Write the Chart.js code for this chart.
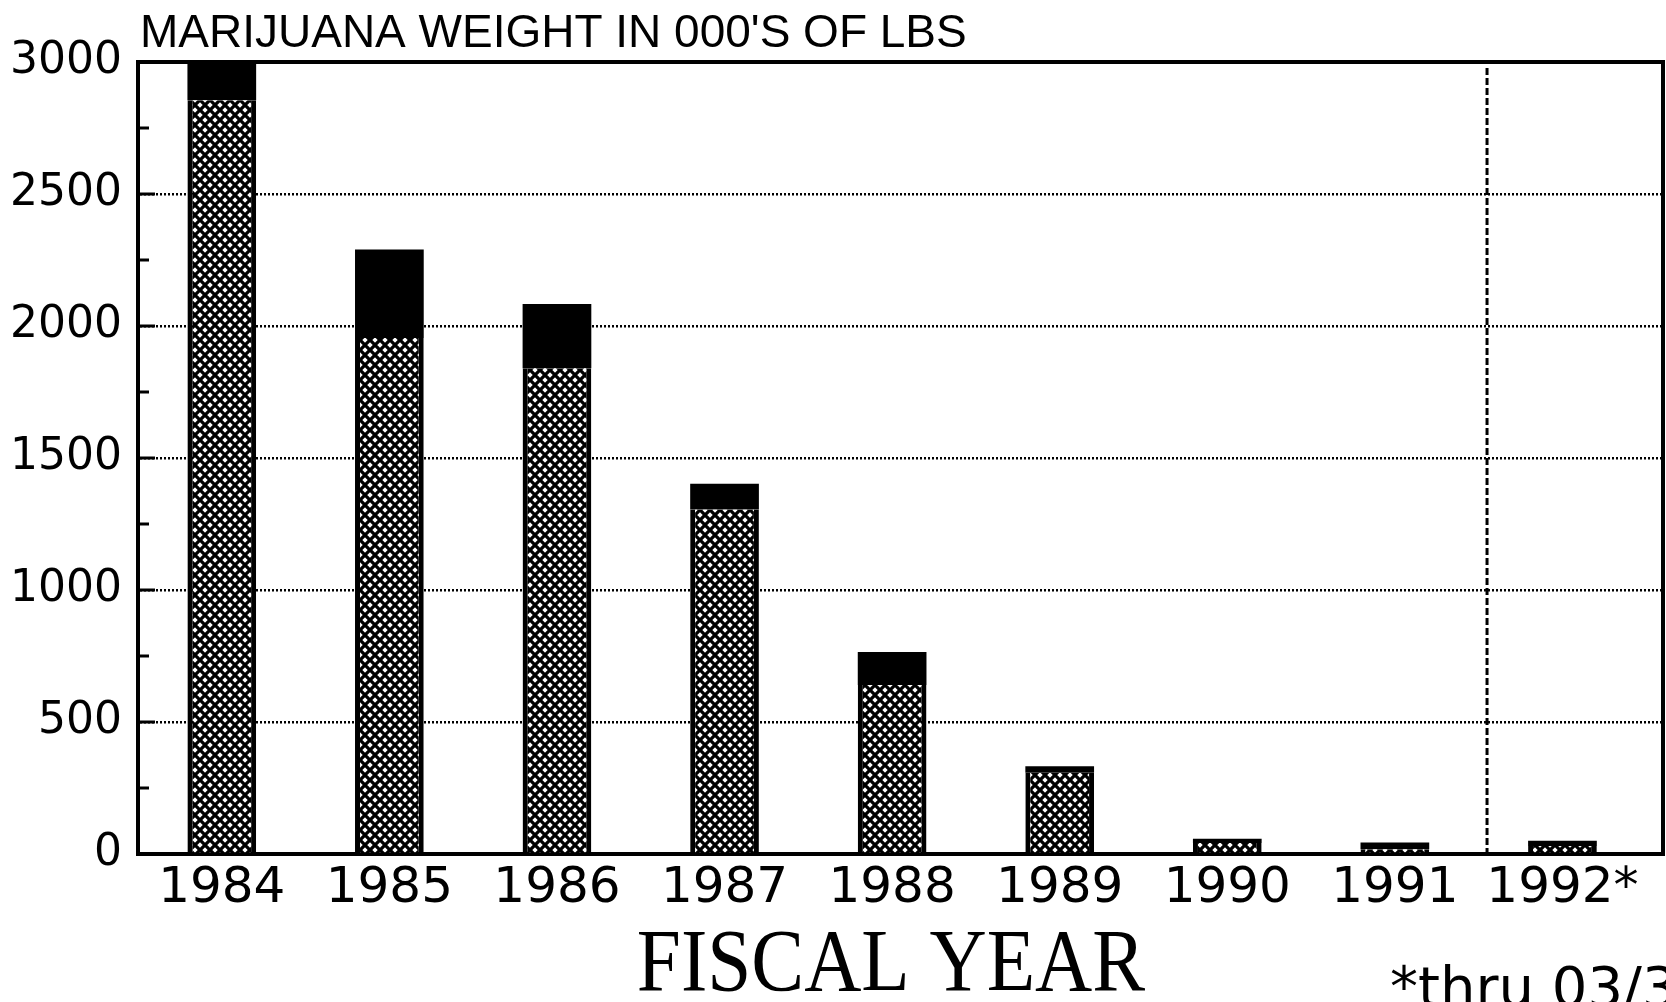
<!DOCTYPE html>
<html>
<head>
<meta charset="utf-8">
<script src="https://cdn.jsdelivr.net/npm/chart.js@4/dist/chart.umd.min.js"></script>
<style>
  html, body { margin: 0; padding: 0; background: #fff; }
</style>
</head>
<body>
<canvas id="weightChart" width="1666" height="1002"></canvas>
<script>
// fiscal years on the x axis
const years = ["1984", "1985", "1986", "1987", "1988", "1989", "1990", "1991", "1992*"];
// lower, cross-hatched part of each bar (000's of lbs)
const hatchedWeight = [2855, 1955, 1840, 1305, 640, 308, 42, 18, 30];
// upper, solid black part of each bar (000's of lbs)
const solidWeight = [145, 335, 243, 97, 125, 24, 16, 26, 20];
// y axis labels
const yTicks = [0, 500, 1000, 1500, 2000, 2500, 3000];
const minorStep = 250;
const dividerAt = 7.55; // dashed line before the partial year

const chartTitle = "MARIJUANA WEIGHT IN 000'S OF LBS";
const axisTitle = "FISCAL YEAR";
const footNote = "*thru 03/31/92";

// cross-hatch fill
function makeHatch() {
  const c = document.createElement("canvas");
  c.width = 10;
  c.height = 10;
  const g = c.getContext("2d");
  g.fillStyle = "#fff";
  g.fillRect(0, 0, 10, 10);
  g.strokeStyle = "#000";
  g.lineWidth = 3.3;
  for (let o = -10; o <= 10; o += 10) {
    g.beginPath();
    g.moveTo(o, 0);
    g.lineTo(o + 10, 10);
    g.moveTo(o + 10, 0);
    g.lineTo(o, 10);
    g.stroke();
  }
  return g.createPattern(c, "repeat");
}
const hatch = makeHatch();

// frame, inside tick marks, divider and the free texts
const decorations = {
  id: "decorations",
  afterDraw(chart) {
    const { ctx, chartArea, scales } = chart;
    const y = scales.y;
    const x = scales.x;
    ctx.save();
    ctx.strokeStyle = "#000";
    ctx.lineCap = "butt";

    // top and right frame
    ctx.lineWidth = 4;
    ctx.beginPath();
    ctx.moveTo(chartArea.left - 2, chartArea.top);
    ctx.lineTo(chartArea.right, chartArea.top);
    ctx.lineTo(chartArea.right, chartArea.bottom + 2);
    ctx.stroke();

    // tick marks pointing into the plot
    ctx.lineWidth = 3;
    for (let v = minorStep; v < 3000; v += minorStep) {
      const py = y.getPixelForValue(v);
      const len = v % 500 === 0 ? 17 : 11;
      ctx.beginPath();
      ctx.moveTo(chartArea.left, py);
      ctx.lineTo(chartArea.left + len, py);
      ctx.stroke();
    }

    // dashed divider
    const dx = x.getPixelForValue(dividerAt);
    ctx.lineWidth = 3;
    ctx.setLineDash([7, 3]);
    ctx.beginPath();
    ctx.moveTo(dx, chartArea.top + 6);
    ctx.lineTo(dx, chartArea.bottom);
    ctx.stroke();
    ctx.setLineDash([]);

    // texts
    ctx.fillStyle = "#000";
    ctx.textBaseline = "alphabetic";
    ctx.textAlign = "left";
    ctx.font = "46px 'Liberation Sans'";
    ctx.fillText(chartTitle, 140, 47);

    ctx.save();
    ctx.translate(891, 990);
    ctx.scale(0.9, 1);
    ctx.textAlign = "center";
    ctx.font = "88px 'Liberation Serif'";
    ctx.fillText(axisTitle, 0, 0);
    ctx.restore();

    ctx.textAlign = "left";
    ctx.font = "56px 'DejaVu Sans'";
    ctx.fillText(footNote, 1390, 1006);
    ctx.restore();
  },
};

new Chart(document.getElementById("weightChart"), {
  type: "bar",
  data: {
    datasets: [
      {
        label: "Hatched",
        data: hatchedWeight.map((v, i) => ({ x: i, y: v })),
        backgroundColor: hatch,
        borderColor: "#000",
        borderWidth: { left: 5, right: 5, top: 0, bottom: 0 },
        borderSkipped: false,
        barPercentage: 0.41,
        categoryPercentage: 1,
      },
      {
        label: "Solid",
        data: solidWeight.map((v, i) => ({ x: i, y: v })),
        backgroundColor: "#000",
        borderWidth: 0,
        barPercentage: 0.41,
        categoryPercentage: 1,
      },
    ],
  },
  options: {
    responsive: false,
    animation: false,
    layout: { padding: { top: 62, right: 3, bottom: 0, left: 0 } },
    scales: {
      x: {
        type: "linear",
        stacked: true,
        offset: false,
        min: -0.5,
        max: 8.6,
        afterBuildTicks: (axis) => {
          axis.ticks = years.map((_, i) => ({ value: i }));
        },
        afterFit: (scale) => {
          scale.height = 148;
        },
        ticks: {
          callback: (value) => years[value],
          color: "#000",
          font: { family: "DejaVu Sans", size: 50 },
          padding: 5,
          autoSkip: false,
          maxRotation: 0,
        },
        grid: { display: false, drawTicks: false, offset: false },
        border: { display: true, color: "#000", width: 4 },
      },
      y: {
        stacked: true,
        min: 0,
        max: 3000,
        afterBuildTicks: (axis) => {
          axis.ticks = yTicks.map((v) => ({ value: v }));
        },
        afterFit: (scale) => {
          scale.width = 138;
        },
        ticks: {
          callback: (value) => String(value),
          color: "#000",
          font: { family: "DejaVu Sans", size: 44 },
          padding: 16,
        },
        grid: {
          drawTicks: false,
          lineWidth: 2.5,
          color: (ctx) =>
            ctx.tick && (ctx.tick.value === 0 || ctx.tick.value === 3000)
              ? "rgba(0,0,0,0)"
              : "#000",
        },
        border: { display: true, color: "#000", width: 4, dash: [2, 2] },
      },
    },
    plugins: {
      legend: { display: false },
      tooltip: { enabled: false },
    },
  },
  plugins: [decorations],
});
</script>
</body>
</html>
